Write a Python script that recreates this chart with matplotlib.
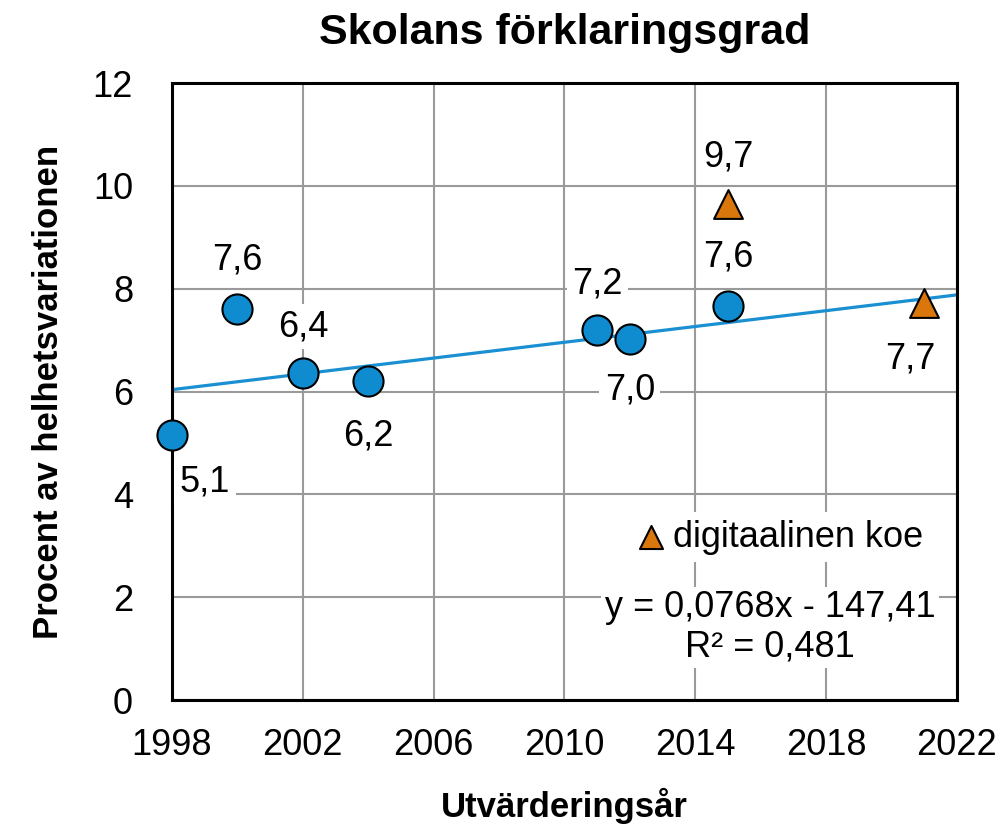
import numpy as np
import matplotlib
matplotlib.use("Agg")
import matplotlib.pyplot as plt

plt.rcParams['font.family'] = ['Liberation Sans Narrow', 'Liberation Sans', 'DejaVu Sans']

# skolans förklaringsgrad per utvärderingsår
ar_papper = [1998, 2000, 2002, 2004, 2011, 2012, 2015]
varde_papper = [5.15, 7.6, 6.37, 6.2, 7.2, 7.03, 7.67]
etikett_papper = ["5,1", "7,6", "6,4", "6,2", "7,2", "7,0", "7,6"]

ar_digi = [2015, 2021]
varde_digi = [9.65, 7.72]
etikett_digi = ["9,7", "7,7"]

# trendlinje y = 0,0768x - 147,41
k = 0.0768
m = -147.41
trend_x = [1998, 2022]

# etiketternas förskjutning i pixlar (dx, dy)
offs_papper = [(33, -47), (0, 49), (0, 46), (0, -55), (0, 46), (0, -51), (0, 49)]
offs_digi = [(0, 47), (-14, -56)]

bla = '#0f8bd0'
orange = '#d9770c'
fs = 26

fig = plt.figure(figsize=(10, 8.31), dpi=100)
ax = fig.add_axes([0.172, 0.1576, 0.785, 0.7425])

tx = np.array(trend_x)
ax.plot(tx, k * tx + m, color='#1a90d2', lw=2.3, zorder=2)

ax.scatter(ar_papper, varde_papper, s=470, color=bla, edgecolor='black', lw=1.5,
           zorder=3, clip_on=False)
ax.scatter(ar_digi, varde_digi, s=430, marker='^', color=orange, edgecolor='black',
           lw=1.5, zorder=3, clip_on=False, label='digitaalinen koe')

for x, y, t, o in zip(ar_papper + ar_digi, varde_papper + varde_digi,
                      etikett_papper + etikett_digi, offs_papper + offs_digi):
    ax.annotate(t, (x, y), xytext=o, textcoords='offset pixels', ha='center', va='center',
                fontsize=fs, zorder=4,
                bbox=dict(boxstyle='square,pad=0.15', fc='white', ec='none'))

ax.set_xlim(1998, 2022)
ax.set_ylim(0, 12)
ax.set_xticks(range(1998, 2023, 4))
ax.set_yticks(range(0, 13, 2))
ax.tick_params(length=0, labelsize=fs)
ax.tick_params(axis='x', pad=20)
ax.tick_params(axis='y', pad=28)
ax.grid(True, color='#9a9a9a', lw=1.5)
ax.set_axisbelow(True)
for s in ax.spines.values():
    s.set_linewidth(2.2)
    s.set_color('black')

leg = ax.legend(loc='center', bbox_to_anchor=(0.77, 0.264), fontsize=fs, frameon=True,
                handletextpad=0.0, handlelength=1.2, borderpad=0.2, markerscale=0.8)
leg.get_frame().set_facecolor('white')
leg.get_frame().set_edgecolor('none')
leg.get_frame().set_alpha(1)

ax.text(0.762, 0.118, "y = 0,0768x - 147,41\nR² = 0,481", transform=ax.transAxes,
        ha='center', va='center', fontsize=fs, linespacing=1.15, zorder=4,
        bbox=dict(boxstyle='square,pad=0.1', fc='white', ec='none'))

ax.set_title("Skolans förklaringsgrad", fontsize=31, fontweight='bold', pad=28)
ax.set_xlabel("Utvärderingsår", fontsize=25, fontweight='bold', labelpad=18)
ax.set_ylabel("Procent av helhetsvariationen", fontsize=25, fontweight='bold', labelpad=20)

fig.savefig("out.png", dpi=100)
